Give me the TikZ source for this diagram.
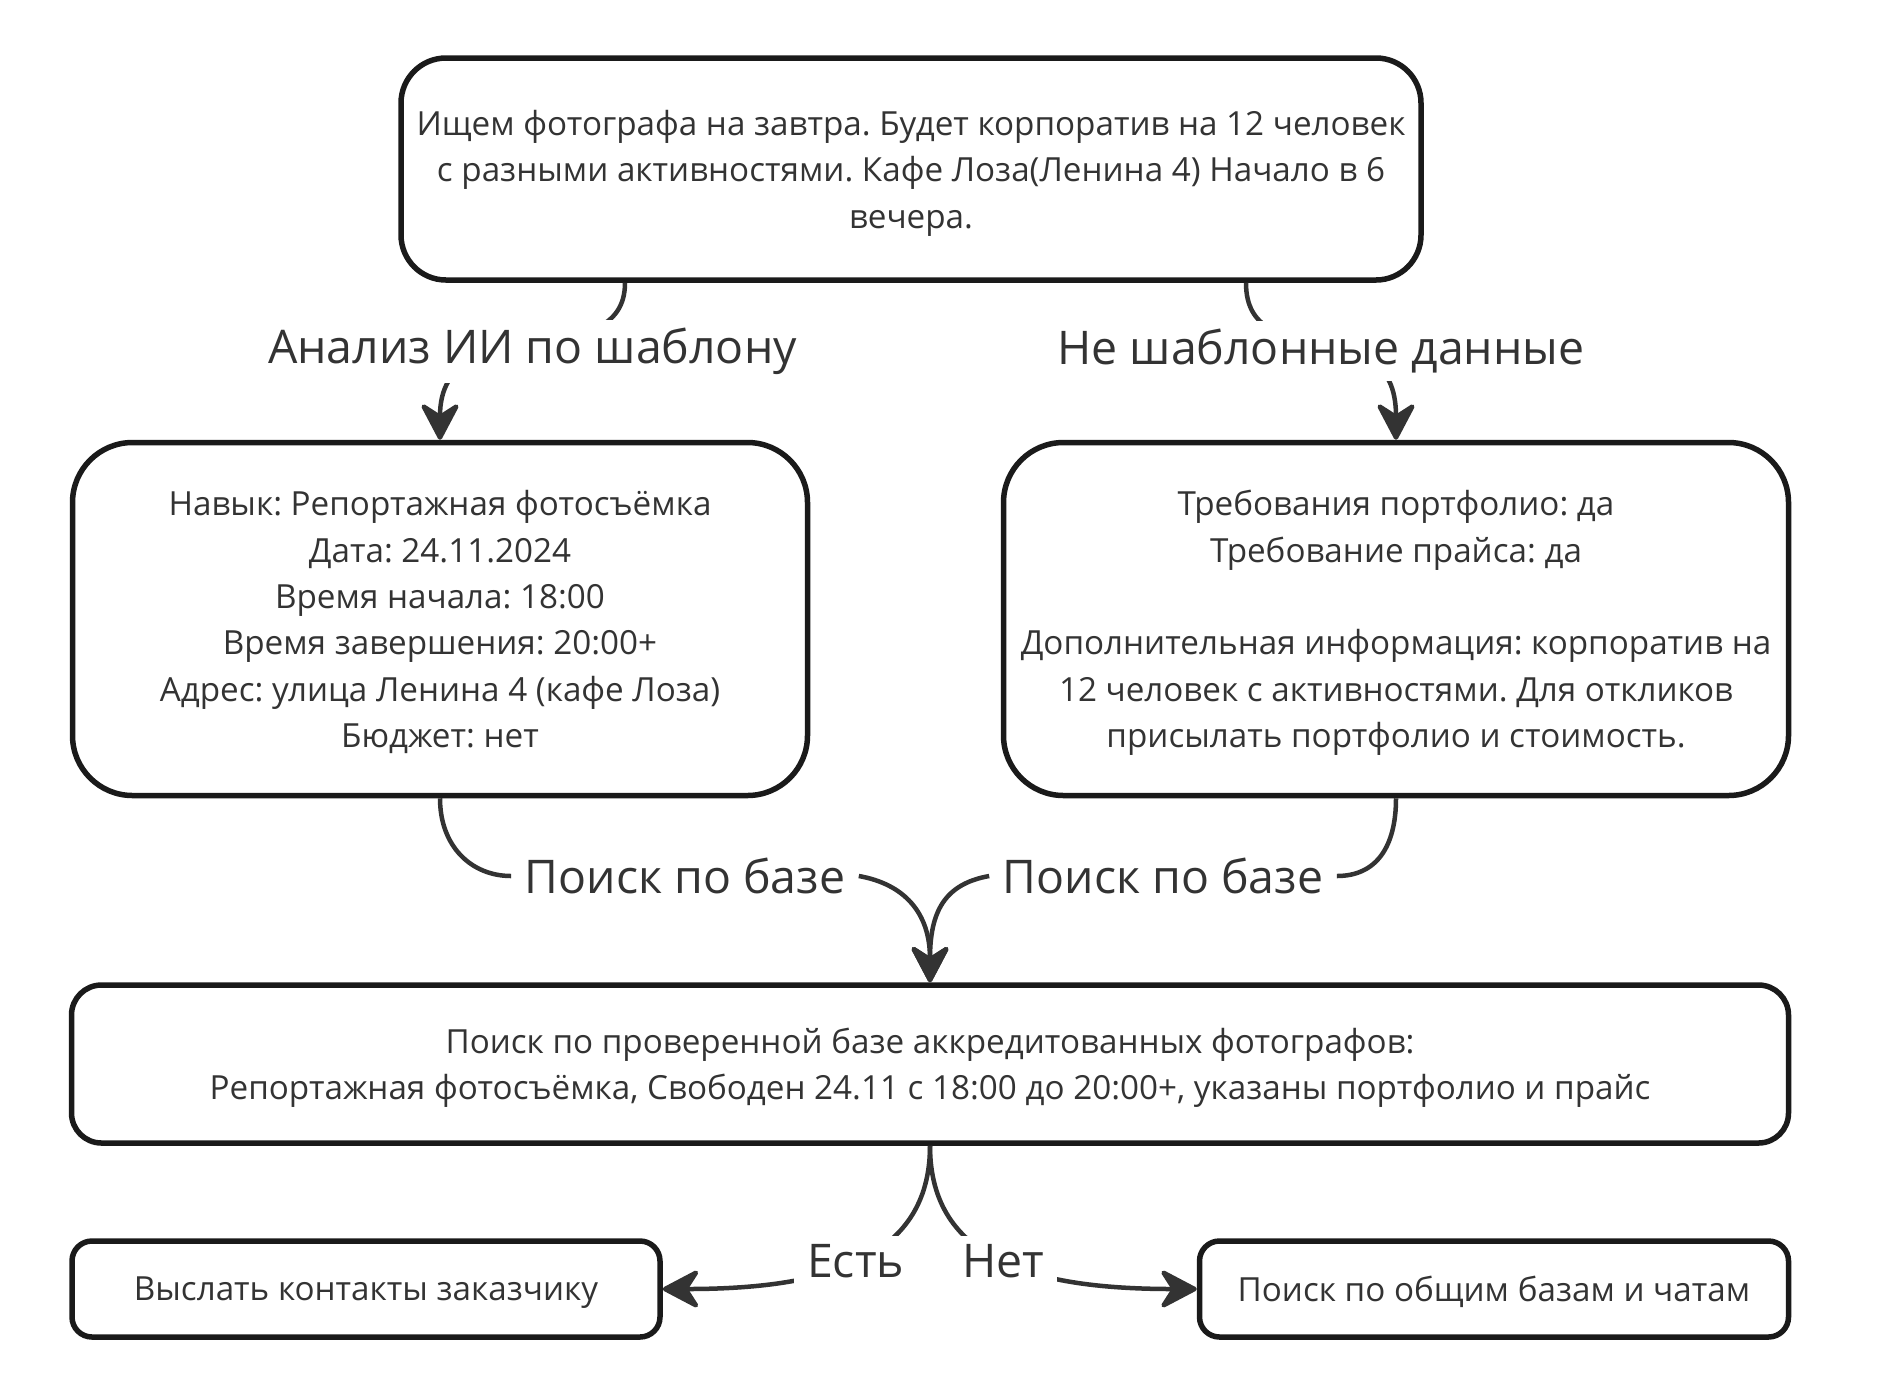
\documentclass[tikz,border=0pt]{standalone}
\usepackage{fontspec}
\setmainfont{Open Sans}
\usepackage{xcolor}
\usetikzlibrary{arrows.meta}
\definecolor{boxline}{HTML}{1A1A1A}
\definecolor{inkgray}{HTML}{333333}
\tikzstyle{tbox}=[rectangle,draw=boxline,line width=0.55mm,align=center,text=inkgray,inner sep=0pt,text depth=0pt,font=\fontsize{9.45}{13.2}\selectfont]
\tikzstyle{tlabel}=[fill=white,text=inkgray,inner xsep=1.3mm,inner ysep=0.8mm,font=\fontsize{13.2}{15}\selectfont]
\tikzstyle{tlink}=[draw=inkgray,line width=0.45mm]
\frenchspacing

\begin{document}
\begin{tikzpicture}[x=0.1mm,y=-0.1mm]
  \useasboundingbox (0,0) rectangle (1895,1398);

  \node[tbox,minimum width=102mm,minimum height=22.2mm,rounded corners=4.5mm] (req) at (911,169)
    {Ищем фотографа на завтра. Будет корпоратив на 12 человек\\с разными активностями. Кафе Лоза(Ленина 4) Начало в 6\\вечера.};
  \node[tbox,minimum width=73.5mm,minimum height=35.3mm,rounded corners=6mm] (tpl) at (440,619)
    {Навык: Репортажная фотосъёмка\\Дата: 24.11.2024\\Время начала: 18:00\\Время завершения: 20:00+\\Адрес: улица Ленина 4 (кафе Лоза)\\Бюджет: нет};
  \node[tbox,minimum width=78.5mm,minimum height=35.3mm,rounded corners=6mm] (extra) at (1396,619)
    {Требования портфолио: да\\Требование прайса: да\\[13.2pt]Дополнительная информация: корпоратив на\\12 человек с активностями. Для откликов\\присылать портфолио и стоимость.};
  \node[tbox,minimum width=171.7mm,minimum height=15.8mm,rounded corners=3mm] (base) at (930,1064)
    {Поиск по проверенной базе аккредитованных фотографов:\\Репортажная фотосъёмка, Свободен 24.11 с 18:00 до 20:00+, указаны портфолио и прайс};
  \node[tbox,minimum width=58.8mm,minimum height=9.6mm,rounded corners=2mm] (send) at (366,1289)
    {Выслать контакты заказчику};
  \node[tbox,minimum width=58.9mm,minimum height=9.6mm,rounded corners=2mm] (wide) at (1494,1289)
    {Поиск по общим базам и чатам};

  \node[tlabel] (lsl) at (685,876) {Поиск по базе};
  \node[tlabel] (lsr) at (1163,876) {Поиск по базе};

  \draw[tlink,style={->,>={Stealth[length=4.2mm,width=4.4mm,inset=1.4mm,round]}}]
    ([xshift=-28.6mm]req.south) .. controls +(0,96) and +(0,-136) .. (tpl.north)
    node[tlabel,pos=0.5,yshift=-0.5mm] (lai) {Анализ ИИ по шаблону};
  \draw[tlink,style={->,>={Stealth[length=4.2mm,width=4.4mm,inset=1.4mm,round]}}]
    ([xshift=33.5mm]req.south) .. controls +(0,96) and +(0,-136) .. (extra.north)
    node[tlabel,pos=0.5,yshift=-0.5mm] (lraw) {Не шаблонные данные};

  \draw[tlink] (tpl.south) .. controls +(0,48) and +(-40,0) .. (lsl.west);
  \draw[tlink,style={->,>={Stealth[length=4.2mm,width=4.4mm,inset=1.4mm,round]}}]
    (lsl.east) .. controls +(45,8) and +(0,-70) .. (base.north);
  \draw[tlink] (extra.south) .. controls +(0,48) and +(40,0) .. (lsr.east);
  \draw[tlink,style={->,>={Stealth[length=4.2mm,width=4.4mm,inset=1.4mm,round]}}]
    (lsr.west) .. controls +(-45,8) and +(0,-70) .. (base.north);

  \draw[tlink,style={->,>={Stealth[length=4.2mm,width=4.4mm,inset=1.4mm,round]}}]
    (base.south) .. controls +(0,116) and +(158,0) .. (send.east)
    node[tlabel,pos=0.5] (lyes) {Есть};
  \draw[tlink,style={->,>={Stealth[length=4.2mm,width=4.4mm,inset=1.4mm,round]}}]
    (base.south) .. controls +(0,116) and +(-160,0) .. (wide.west)
    node[tlabel,pos=0.5] (lno) {Нет};

\end{tikzpicture}
\end{document}
